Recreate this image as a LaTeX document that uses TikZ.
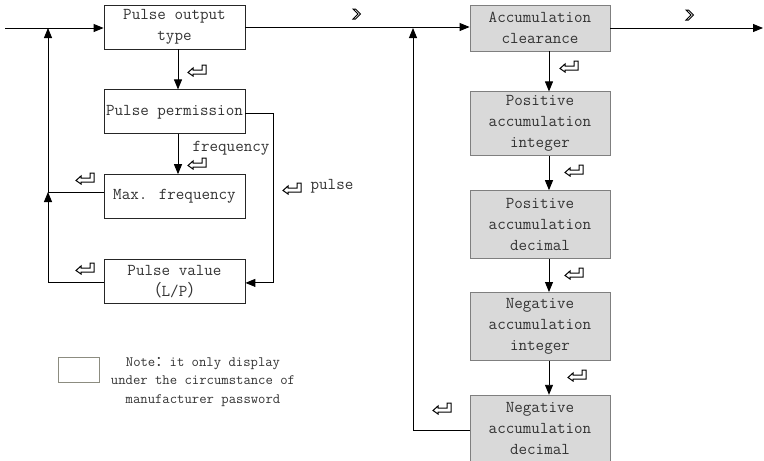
\documentclass[tikz,border=0pt]{standalone}
\usepackage{fontspec}
\newfontfamily\cjk{Noto Sans CJK SC}
\usetikzlibrary{arrows.meta,positioning}
\definecolor{txtc}{HTML}{333333}
\definecolor{gfill}{HTML}{D9D9D9}
\definecolor{gline}{HTML}{7F7F7F}
\definecolor{notec}{HTML}{8C8C80}
\newcommand{\boxfs}{\ttfamily\fontsize{16.6}{21}\selectfont}
\newcommand{\notefs}{\ttfamily\fontsize{14.3}{18.5}\selectfont}

\begin{document}
\begin{tikzpicture}[x=1pt,y=1pt,
  font=\boxfs,text=txtc,
  box/.style={draw=black!85,line width=0.8pt,minimum width=141pt,minimum height=44pt,
              inner xsep=0pt,inner ysep=2pt,align=center},
  gbox/.style={box,draw=gline,fill=gfill,minimum width=140pt},
  ar/.style={-{Triangle[length=10pt,width=8pt]},line width=0.9pt},
  ln/.style={line width=0.9pt},
  retkey/.pic={\draw[line width=1pt] (-9,-2.5) -- (-4,2) -- (-4,0) -- (5,0) -- (5,5)
               -- (9,5) -- (9,-4) -- (-4,-4) -- (-4,-6) -- cycle;},
  fwdkey/.pic={\draw[line width=1pt] (-4,5) -- (-1.5,5) -- (3.5,0) -- (-1.5,-5)
               -- (-4,-5) -- (1,0) -- cycle;},
]
\useasboundingbox (0,0) rectangle (764,-461);

% left column
\node[box] (pot) at (174.5,-27) {Pulse output\\type};
\node[box,below=40pt of pot] (pperm) {Pulse permission};
\node[box,below=40pt of pperm] (maxf) {Max. frequency};
\node[box,below=40pt of maxf] (pval) {Pulse value\\{\cjk（}L/P{\cjk）}};

% right column
\node[gbox,minimum height=46pt] (accl) at (540,-28) {Accumulation\\clearance};
\node[gbox,minimum height=64pt,below=40pt of accl] (pint) {Positive\\accumulation\\integer};
\node[gbox,minimum height=68pt,below=34pt of pint] (pdec) {Positive\\accumulation\\decimal};
\node[gbox,minimum height=68pt,below=33pt of pdec] (nint) {Negative\\accumulation\\integer};
\node[gbox,minimum height=67pt,below=34pt of nint] (ndec) {Negative\\accumulation\\decimal};

\coordinate (in) at (5,-28);
\coordinate (out) at (763,-28);
\coordinate (lj) at (48,-192);
\coordinate (lt) at (48,-28);
\coordinate (rt) at (413,-28);

% main line
\draw[ar] (in) -- (in -| pot.west);
\draw[ar] (pot.east) -- (pot.east -| accl.west);
\draw[ar] (accl.east) -- (out);

% left connectors
\draw[ar] ([xshift=3.5pt]pot.south) -- ([xshift=3.5pt]pperm.north);
\draw[ar] ([xshift=3.5pt]pperm.south) -- ([xshift=3.5pt]maxf.north);
\draw[ar] ([yshift=-1.5pt]pperm.east) -- ++(28,0) |- ([yshift=-1.5pt]pval.east);
\draw[ln] (lj -| maxf.west) -- (lj);
\draw[ar] (lj) -- (lt);
\draw[ar] ([yshift=-1.5pt]pval.west) -| (lj);

% right connectors
\draw[ar] ([xshift=9pt]accl.south) -- ([xshift=9pt]pint.north);
\draw[ar] ([xshift=9pt]pint.south) -- ([xshift=9pt]pdec.north);
\draw[ar] ([xshift=9pt]pdec.south) -- ([xshift=9pt]nint.north);
\draw[ar] ([xshift=9pt]nint.south) -- ([xshift=9pt]ndec.north);
\draw[ar] ([yshift=-1.5pt]ndec.west) -| (rt);

% key marks
\pic at (357,-14) {fwdkey};
\pic at (690,-15) {fwdkey};
\pic at (197,-70) {retkey};
\pic at (197,-163) {retkey};
\pic at (85,-178) {retkey};
\pic at (85,-268) {retkey};
\pic at (292,-188) {retkey};
\pic at (569,-66) {retkey};
\pic at (574,-170) {retkey};
\pic at (574,-273) {retkey};
\pic at (577,-375) {retkey};
\pic at (442,-408) {retkey};

\node (fq) at (231,-148) {frequency};
\node (pl) at (332,-186) {pulse};

% note
\node[draw=notec,line width=0.8pt,minimum width=41pt,minimum height=25pt,inner sep=0pt]
  (nbox) at (78.5,-369.5) {};
\node[font=\notefs,align=center] (note) at (203,-382)
  {Note{\cjk：}it only display\\under the circumstance of\\manufacturer password};
\end{tikzpicture}
\end{document}
